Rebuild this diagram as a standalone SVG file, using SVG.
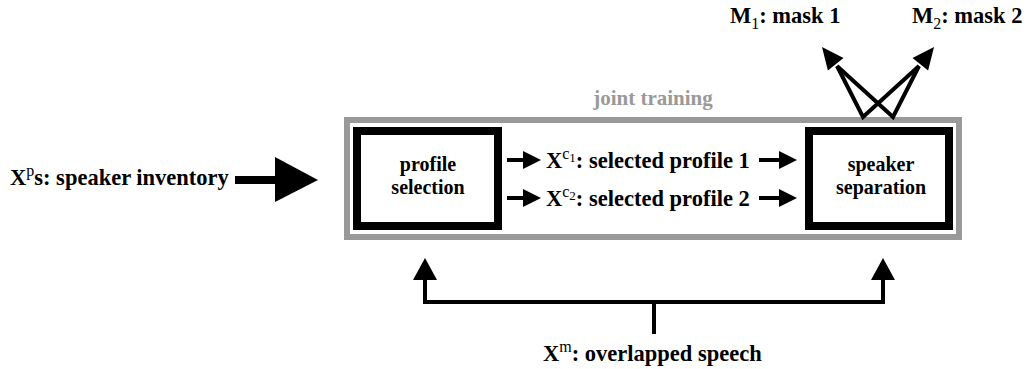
<svg xmlns="http://www.w3.org/2000/svg" width="1026" height="369" viewBox="0 0 1026 369">
<style>
text{font-family:"Liberation Serif","Times New Roman",serif;font-weight:bold;font-size:22.5px;fill:#000}
.node{font-size:20px}
.sup{font-weight:normal;font-size:16px}
.sub{font-weight:normal;font-size:13px}
.gray{fill:#999;font-size:21px}
.box{fill:#fff;stroke:#000;stroke-width:8}
.frame{fill:none;stroke:#999;stroke-width:6}
.ln{fill:none;stroke:#000;stroke-width:4}
.head{fill:#000}
</style>
<defs>
<marker id="sm" markerUnits="userSpaceOnUse" markerWidth="18" markerHeight="18" refX="2" refY="9" orient="auto"><path d="M0,0 L18,9 L0,18 z" fill="#000"/></marker>
<marker id="up" markerUnits="userSpaceOnUse" markerWidth="24" markerHeight="24" refX="2" refY="12" orient="auto-start-reverse"><path d="M0,0 L22,12 L0,24 z" fill="#000"/></marker>
</defs>
<g id="joint-training">
<rect class="frame" x="347" y="120" width="612" height="117"/>
<text class="gray" x="653" y="105" text-anchor="middle">joint training</text>
</g>
<g id="profile-selection">
<rect class="box" x="357" y="131" width="141" height="95"/>
<text class="node" x="428" y="171" text-anchor="middle">profile</text>
<text class="node" x="428" y="194" text-anchor="middle">selection</text>
</g>
<g id="speaker-separation">
<rect class="box" x="809" y="131" width="140" height="95"/>
<text class="node" x="881" y="171" text-anchor="middle">speaker</text>
<text class="node" x="881" y="194" text-anchor="middle">separation</text>
</g>
<g id="speaker-inventory">
<text x="10" y="185">X<tspan class="sup" dy="-9">p</tspan><tspan dy="9">s: speaker inventory</tspan></text>
</g>
<g id="selected-profiles">
<text x="546" y="168">X<tspan class="sup" dy="-9">c</tspan><tspan class="sub" dy="3">1</tspan><tspan dy="6">: selected profile 1</tspan></text>
<text x="546" y="206">X<tspan class="sup" dy="-9">c</tspan><tspan class="sub" dy="3">2</tspan><tspan dy="6">: selected profile 2</tspan></text>
</g>
<g id="masks">
<text x="730" y="23">M<tspan class="sup" dy="6">1</tspan><tspan dy="-6">: mask 1</tspan></text>
<text x="912" y="23">M<tspan class="sup" dy="6">2</tspan><tspan dy="-6">: mask 2</tspan></text>
</g>
<g id="overlapped-speech">
<text x="543" y="361">X<tspan class="sup" dy="-9">m</tspan><tspan dy="9">: overlapped speech</tspan></text>
</g>
<g id="connectors">
<line x1="235" y1="180" x2="280" y2="180" stroke="#000" stroke-width="8"/>
<polygon class="head" points="275,157 318,180 275,202"/>
<line class="ln" x1="507" y1="160" x2="525" y2="160" marker-end="url(#sm)"/>
<line class="ln" x1="507" y1="198" x2="525" y2="198" marker-end="url(#sm)"/>
<line class="ln" x1="759" y1="160" x2="781" y2="160" marker-end="url(#sm)"/>
<line class="ln" x1="759" y1="198" x2="781" y2="198" marker-end="url(#sm)"/>
<path class="ln" d="M425,278 V302 H883 V278" marker-start="url(#up)" marker-end="url(#up)"/>
<line class="ln" x1="654" y1="302" x2="654" y2="334"/>
<polyline class="ln" points="837,66 863,117 919,66"/>
<polyline class="ln" points="837,66 893,117 919,66"/>
<polygon class="head" points="822,47 843.5,58 827.9,70.4"/>
<polygon class="head" points="934,47 912.5,58 928.1,70.4"/>
</g>
</svg>
